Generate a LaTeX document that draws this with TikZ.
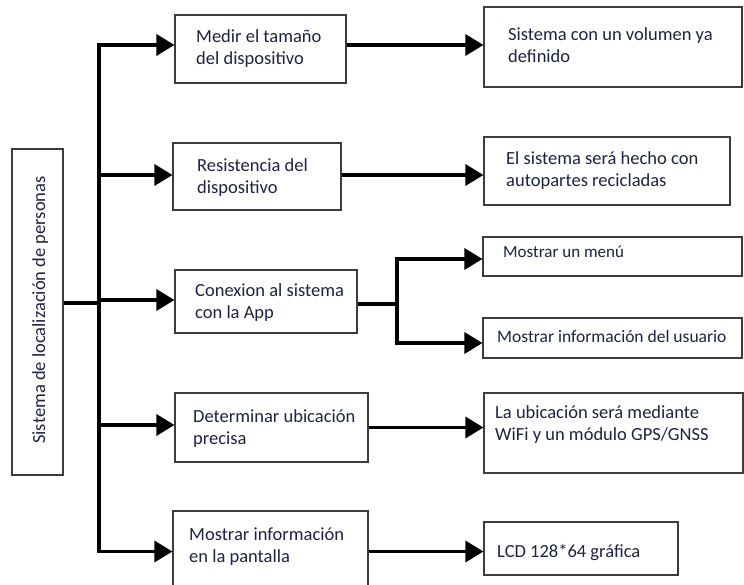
\documentclass[tikz,border=0pt]{standalone}
\usepackage{fontspec}
\setmainfont{Carlito}
\usetikzlibrary{arrows.meta,calc}
\definecolor{txt}{RGB}{30,35,65}
\definecolor{edge}{RGB}{60,60,60}
\newcommand{\twolines}[2]{\vtop{\baselineskip=22pt\hbox{#1}\hbox{#2}}}
\tikzset{
  box/.style={draw=edge, line width=1.1pt, fill=white, inner sep=0pt},
  lbl/.style={anchor=base west, inner sep=0pt, text=txt, font=\fontsize{18.5}{22}\selectfont},
  conn/.style={line width=3.3pt, black},
  arr/.style={conn, -{Triangle[length=18pt,width=21pt]}}
}
\begin{document}
\begin{tikzpicture}[x=1pt,y=-1pt]
\useasboundingbox (0,0) rectangle (744,585);
% boxes
\node[box, minimum width=51pt, minimum height=326pt] (main) at (37.5,312) {};
\node[box, minimum width=171pt, minimum height=68pt] (b1) at (260.5,49) {};
\node[box, minimum width=258pt, minimum height=80pt] (r1) at (613,47) {};
\node[box, minimum width=168pt, minimum height=67pt] (b2) at (257,176.5) {};
\node[box, minimum width=246pt, minimum height=68pt] (r2) at (607,171) {};
\node[box, minimum width=182pt, minimum height=63pt] (b3) at (266,301.5) {};
\node[box, minimum width=259pt, minimum height=39pt] (r3a) at (612.5,256.5) {};
\node[box, minimum width=259pt, minimum height=40pt] (r3b) at (612.5,338) {};
\node[box, minimum width=193pt, minimum height=69pt] (b4) at (271.5,427.5) {};
\node[box, minimum width=259pt, minimum height=80pt] (r4) at (613.5,433) {};
\node[box, minimum width=195pt, minimum height=81pt] (b5) at (270.5,551.5) {};
\node[box, minimum width=194pt, minimum height=53pt] (r5) at (581,548.5) {};
% texts
\node[lbl, anchor=base, rotate=90] (tm) at (45,310) {Sistema de localización de personas};
\node[lbl] (t1) at (196,43) {\twolines{Medir el tamaño}{del dispositivo}};
\node[lbl] (tr1) at (508,41) {\twolines{Sistema con un volumen ya}{definido}};
\node[lbl] (t2) at (197,172) {\twolines{Resistencia del}{dispositivo}};
\node[lbl] (tr2) at (506,165) {\twolines{El sistema será hecho con}{autopartes recicladas}};
\node[lbl] (t3) at (195,297) {\twolines{Conexion al sistema}{con la App}};
\node[lbl, font=\fontsize{17}{22}\selectfont] (tr3a) at (503,258) {Mostrar un menú};
\node[lbl, font=\fontsize{17.5}{22}\selectfont] (tr3b) at (497,342) {Mostrar información del usuario};
\node[lbl] (t4) at (193,422) {\twolines{Determinar ubicación}{precisa}};
\node[lbl] (tr4) at (495,418) {\twolines{La ubicación será mediante}{WiFi y un módulo GPS/GNSS}};
\node[lbl] (t5) at (189,540) {\twolines{Mostrar información}{en la pantalla}};
\node[lbl] (tr5) at (497,557) {LCD 128*64 gráfica};
% junctions
\coordinate (j) at (99,303);
\coordinate (k) at (397,304);
% connectors
\draw[conn] (main.east |- j) -- (j);
\draw[arr] (j) |- ([yshift=4pt]b1.west);
\draw[arr] (j) |- ([yshift=1.5pt]b2.west);
\draw[arr] (j) |- ([yshift=1.5pt]b3.west);
\draw[arr] (j) |- ([yshift=2.5pt]b4.west);
\draw[arr] (j) |- (b5.west);
\draw[arr] ([yshift=4pt]b1.east) -- ([yshift=4pt]b1.east -| r1.west);
\draw[arr] ([yshift=1.5pt]b2.east) -- ([yshift=1.5pt]b2.east -| r2.west);
\draw[conn] (b3.east |- k) -- (k);
\draw[arr] (k) |- ([yshift=-2.5pt]r3a.west);
\draw[arr] (k) |- ([yshift=-5pt]r3b.west);
\draw[arr] (b4.east) -- (b4.east -| r4.west);
\draw[arr] (b5.east) -- (b5.east -| r5.west);
\end{tikzpicture}
\end{document}
